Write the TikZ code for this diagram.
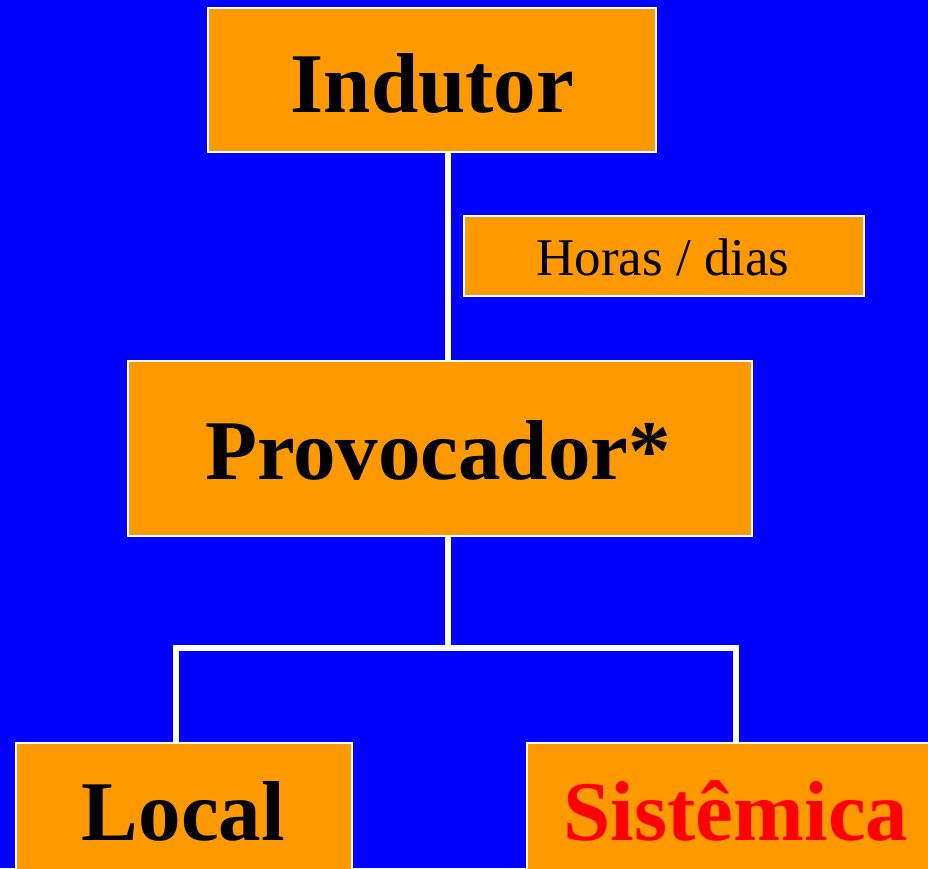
\documentclass[tikz,border=0pt]{standalone}
\usepackage{fontspec}
\setmainfont{Liberation Serif}
\definecolor{bgblue}{HTML}{0000FF}
\definecolor{boxorange}{HTML}{FF9900}
\definecolor{txtred}{HTML}{FF0000}
\begin{document}
\begin{tikzpicture}[x=1pt,y=-1pt,
  box/.style={draw=white,line width=2pt,fill=boxorange,rectangle,inner sep=0pt,outer sep=0pt},
  bigtxt/.style={anchor=base,inner sep=0pt,font=\fontsize{85}{90}\selectfont\bfseries},
  smalltxt/.style={anchor=base,inner sep=0pt,font=\fontsize{53}{57}\selectfont},
  conn/.style={draw=white,line width=6pt},
  edge/.style={draw=white,line width=2pt}]
\useasboundingbox (0,0) rectangle (928,868);
\clip (0,0) rectangle (928,868);
\fill[bgblue] (0,0) rectangle (928,868);
% junction coordinates
\coordinate (j) at (448,648);
\coordinate (jl) at (176,648);
\coordinate (jr) at (736,648);
% boxes
\node[box,minimum width=448pt,minimum height=144pt] (ind) at (432,80) {};
\node[box,minimum width=400pt,minimum height=80pt] (hor) at (663.5,256) {};
\node[box,minimum width=624pt,minimum height=175pt] (prov) at (440,448) {};
\node[box,minimum width=336pt,minimum height=150pt] (loc) at (184,818) {};
\node[box,minimum width=418pt,minimum height=150pt] (sis) at (736,818) {};
% connectors
\draw[conn] (ind.south -| j) -- (prov.north -| j);
\draw[conn] (prov.south -| j) -- (j);
\draw[conn,line join=miter] (loc.north -| jl) -- (jl) -- (jr) -- (sis.north -| jr);
% box borders over line ends
\draw[edge] (ind.south west) rectangle (ind.north east);
\draw[edge] (prov.south west) rectangle (prov.north east);
\draw[edge] (loc.south west) rectangle (loc.north east);
\draw[edge] (sis.south west) rectangle (sis.north east);
% texts
\node[bigtxt] (indT) at (432.5,112) {Indutor};
\node[smalltxt] (horT) at (663,275) {Horas / dias};
\node[bigtxt] (provT) at (438,479) {Provocador*};
\node[bigtxt] (locT) at (183.5,840) {Local};
\node[bigtxt,text=txtred] (sisT) at (736,840) {Sistêmica};
\end{tikzpicture}
\end{document}
